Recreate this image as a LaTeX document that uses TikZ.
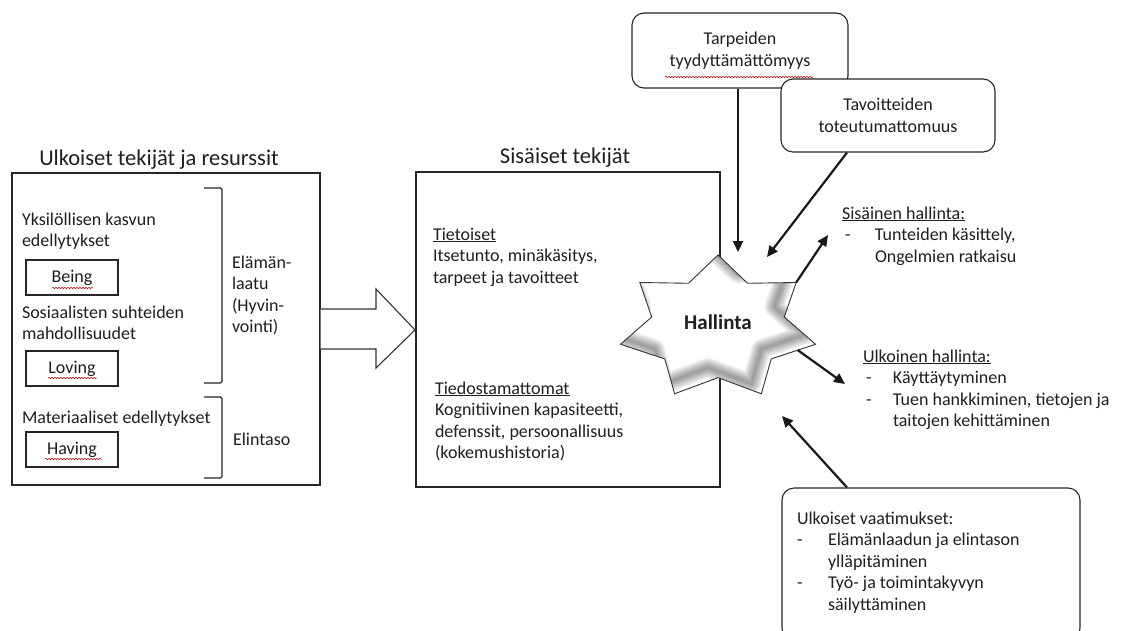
\documentclass[tikz,border=0pt]{standalone}
\usepackage{fontspec}
\setmainfont{Carlito}
\usetikzlibrary{arrows.meta,calc,decorations.pathmorphing}
\newcommand\starpts[1]{([shift={#1}]s0) -- ([shift={#1}]s1) -- ([shift={#1}]s2) -- ([shift={#1}]s3) -- ([shift={#1}]s4) -- ([shift={#1}]s5) -- ([shift={#1}]s6) -- ([shift={#1}]s7) -- ([shift={#1}]s8) -- ([shift={#1}]s9) -- ([shift={#1}]s10) -- ([shift={#1}]s11) -- ([shift={#1}]s12) -- ([shift={#1}]s13) -- cycle}
\tikzset{
  txt/.style={inner sep=0pt, outer sep=0pt, align=left, text=black!88, font=\fontsize{18}{21.5}\selectfont},
  ttl/.style={inner sep=0pt, outer sep=0pt, text=black!88, font=\fontsize{22.5}{26}\selectfont},
  bigbox/.style={draw=black!85, line width=1.1pt, fill=none, inner sep=0pt},
  sbox/.style={draw=black!85, line width=1.1pt, minimum width=92pt, minimum height=35pt, inner sep=0pt, text=black!88, font=\fontsize{18}{21.5}\selectfont},
  rbox/.style={draw=black!85, line width=1.1pt, fill=white, rounded corners=12pt, inner sep=0pt, align=center, text=black!88, font=\fontsize{18}{21.5}\selectfont},
  brk/.style={draw=black!85, line width=1.3pt, rounded corners=1.5pt},
  arr/.style={draw=black!90, line width=2.2pt, -{Triangle[length=11pt,width=10pt]}},
  squig/.style={draw=red!80!black, line width=0.5pt, decorate, decoration={snake, amplitude=0.8pt, segment length=3pt}},
  shadowline/.style={draw=black, opacity=0.045, line join=round}
}
\begin{document}
\begin{tikzpicture}[x=1pt,y=-1pt]
\useasboundingbox[fill=white] (0,0) rectangle (1127,630);

% ---- left part
\node[ttl, anchor=base] (ulktitle) at (159,165) {Ulkoiset tekijät ja resurssit};
\node[bigbox, minimum width=308pt, minimum height=312pt] (ulk) at (166,329) {};
\node[txt, anchor=base west] (yks) at (22,246.5) {Yksilöllisen kasvun\\edellytykset};
\node[sbox] (being) at (72,277.5) {Being};
\node[txt, anchor=base west] (sos) at (22,339.5) {Sosiaalisten suhteiden\\mahdollisuudet};
\node[sbox] (loving) at (72,368.5) {Loving};
\node[txt, anchor=base west] (mat) at (22,423) {Materiaaliset edellytykset};
\node[sbox] (having) at (72,449.5) {Having};
\draw[squig] (52,288) -- (93,288);
\draw[squig] (48,378) -- (97,378);
\draw[squig] (45,459) -- (102,459);
\draw[brk] (204,188) -- (222,188) -- (222,383) -- (204,383);
\draw[brk] (204,397) -- (222,397) -- (222,478) -- (204,478);
\node[txt, anchor=base west] (ela) at (232,332.5) {Elämän-\\laatu\\(Hyvin-\\vointi)};
\node[txt, anchor=base west] (elin) at (233,445) {Elintaso};

% ---- block arrow
\draw[draw=black!80, line width=1.1pt, fill=white, line join=miter]
  (ulk.east |- 0,309) -- (376,309) -- (376,289) -- (415,330) -- (376,368) -- (376,349) -- (ulk.east |- 0,349);

% ---- middle part
\node[ttl, anchor=base] (sistitle) at (565,163) {Sisäiset tekijät};
\node[bigbox, minimum width=304pt, minimum height=315pt] (sis) at (568,329.5) {};
\node[txt, anchor=base west] (tiet) at (433,283) {\underline{Tietoiset}\\Itsetunto, minäkäsitys,\\tarpeet ja tavoitteet};
\node[txt, anchor=base west] (tied) at (435,458.5) {\underline{Tiedostamattomat}\\Kognitiivinen kapasiteetti,\\defenssit, persoonallisuus\\(kokemushistoria)};

% ---- star
\foreach \k in {0,...,13}{
  \pgfmathsetmacro\ang{90+\k*360/14}
  \pgfmathsetmacro\rr{mod(\k,2)==0 ? 1 : 0.68}
  \coordinate (s\k) at ({718+100*\rr*cos(\ang)},{328-73*\rr*sin(\ang)});
}
\fill[white] \starpts{(0,0)};
\begin{scope}
  \clip \starpts{(0,0)};
  \foreach \w in {2,4,...,20} {
    \draw[shadowline, line width=\w pt] \starpts{(-10,-10)};
  }
\end{scope}
\draw[draw=black!80, line width=0.9pt, line join=miter] \starpts{(0,0)};
\node[inner sep=0pt, text=black!88, font=\bfseries\fontsize{21}{25}\selectfont, anchor=base] (hal) at (718,329) {Hallinta};

% ---- top boxes
\node[rbox, minimum width=216pt, minimum height=75pt] (tarp) at (740,50.5) {\rule{0pt}{8pt}Tarpeiden\\tyydyttämättömyys};
\draw[squig] (665,77) -- (813,77);
\node[rbox, minimum width=214pt, minimum height=73pt] (tav) at (888,115.5) {\rule{0pt}{4pt}Tavoitteiden\\toteutumattomuus};

% ---- right texts
\node[txt, anchor=base west] (sish) at (842,262) {\underline{Sisäinen hallinta:}\\\makebox[33pt][l]{\,-}Tunteiden käsittely,\\\hspace*{33pt}Ongelmien ratkaisu};
\node[txt, anchor=base west] (ulkh) at (863,426.5) {\underline{Ulkoinen hallinta:}\\\makebox[30pt][l]{\,-}Käyttäytyminen\\\makebox[30pt][l]{\,-}Tuen hankkiminen, tietojen ja\\\hspace*{30pt}taitojen kehittäminen};

% ---- bottom box
\node[rbox, minimum width=298pt, minimum height=152pt] (vaat) at (931,564) {};
\node[txt, anchor=base west] (vaattxt) at (797,610) {Ulkoiset vaatimukset:\\\makebox[31pt][l]{-}Elämänlaadun ja elintason\\\hspace*{31pt}ylläpitäminen\\\makebox[31pt][l]{-}Työ- ja toimintakyvyn\\\hspace*{31pt}säilyttäminen};

% ---- arrows
\coordinate (a1) at (738,252);
\coordinate (a2) at (767,257);
\coordinate (a3) at (828,235);
\coordinate (a4s) at ($(s10)!0.4!(s9)$);
\coordinate (a4) at (845,384);
\coordinate (a5) at (782,416);
\draw[arr] ([xshift=-2pt]tarp.south) -- (a1);
\draw[arr] ([xshift=-41pt]tav.south) -- (a2);
\draw[arr] (s12) -- (a3);
\draw[arr] (a4s) -- (a4);
\draw[arr] ([xshift=-84pt]vaat.north) -- (a5);
\end{tikzpicture}
\end{document}
